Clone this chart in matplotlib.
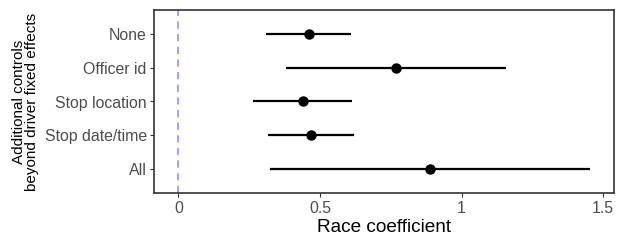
import matplotlib
matplotlib.use("Agg")
import matplotlib.pyplot as plt

categories = ["None", "Officer id", "Stop location", "Stop date/time", "All"]
estimates = [0.460, 0.767, 0.439, 0.468, 0.888]
ci_low = [0.309, 0.380, 0.265, 0.316, 0.322]
ci_high = [0.609, 1.156, 0.614, 0.619, 1.453]
xticks = [0, 0.5, 1, 1.5]
xticklabels = ["0", "0.5", "1", "1.5"]

plt.rcParams['font.family'] = ['Liberation Sans', 'DejaVu Sans']

fig = plt.figure(figsize=(6.23, 2.49), dpi=100)
ax = fig.add_axes([154/623, 1 - 193/249, (614-154)/623, (193-10)/249])

n = len(categories)
ys = [n - i for i in range(n)]
ax.axvline(0, color="#9999FF", linestyle=(0, (4, 3)), linewidth=1.3, zorder=1)
ax.hlines(ys, ci_low, ci_high, color="black", linewidth=1.6, zorder=2)
ax.plot(estimates, ys, "o", color="black", markersize=6.5, zorder=3)

ax.set_xlim(-0.086, 1.538)
ax.set_ylim(0.28, 5.72)
ax.set_yticks(ys)
ax.set_yticklabels(categories)
ax.set_xticks(xticks)
ax.set_xticklabels(xticklabels)
ax.tick_params(axis="both", colors="#333333", labelcolor="#4D4D4D", labelsize=11.4, length=2.75, width=0.8)
ax.tick_params(axis="y", pad=2.5)
ax.tick_params(axis="x", pad=3)
for s in ax.spines.values():
    s.set_color("#333333")
    s.set_linewidth(1.2)
ax.set_xlabel("Race coefficient", fontsize=13.7, labelpad=2)
ax.set_ylabel("Additional controls\nbeyond driver fixed effects", fontsize=11, labelpad=4, linespacing=0.95)

fig.savefig("out.png", dpi=100)
